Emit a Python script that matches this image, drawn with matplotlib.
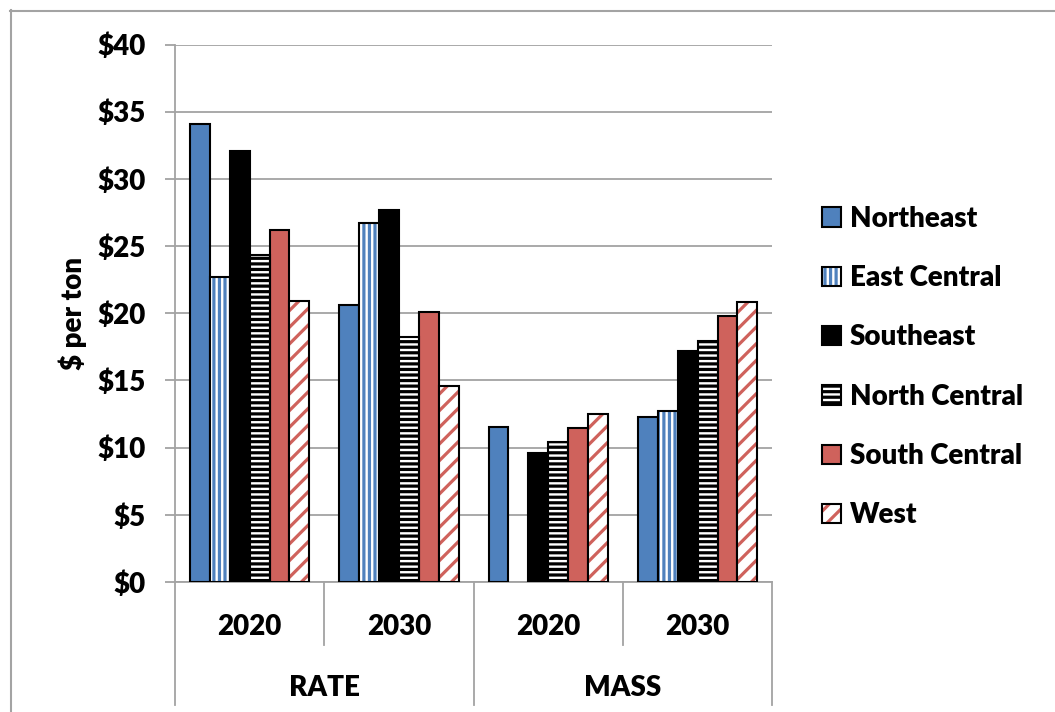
import numpy as np
import matplotlib.pyplot as plt
from matplotlib.patches import Patch
from matplotlib.lines import Line2D

plt.rcParams['font.family'] = ['Lato', 'DejaVu Sans']
plt.rcParams['font.weight'] = 'heavy'
plt.rcParams['axes.labelweight'] = 'heavy'
plt.rcParams['hatch.linewidth'] = 2.3

# cost per ton by region, for each scenario / year
groups = ['RATE', 'MASS']
years = ['2020', '2030', '2020', '2030']
regions = ['Northeast', 'East Central', 'Southeast', 'North Central',
           'South Central', 'West']

northeast = [34.05, 20.6, 11.5, 12.3]
east_central = [22.7, 26.7, np.nan, 12.7]
southeast = [32.1, 27.7, 9.6, 17.2]
north_central = [24.35, 18.2, 10.4, 17.9]
south_central = [26.2, 20.1, 11.45, 19.8]
west = [20.9, 14.6, 12.5, 20.85]

yticks = [0, 5, 10, 15, 20, 25, 30, 35, 40]
ytick_labels = ['$' + str(v) for v in yticks]

series = [northeast, east_central, southeast, north_central, south_central, west]

blue = '#4F81BD'
red = '#CF625C'
grid_gray = '#A3A3A3'
# (face colour, hatch, hatch colour)
styles = [
    (blue, None, None),
    ('white', '|||', blue),
    ('black', None, None),
    ('white', '---', 'black'),
    (red, None, None),
    ('white', '//', red),
]

fig = plt.figure(figsize=(10.55, 7.12), dpi=100)
ax = fig.add_axes([175 / 1055, 1 - 582 / 712, 597.3 / 1055, 537.5 / 712])

x = np.arange(len(years))
w = 0.8 / len(regions)
handles = []
for i, (vals, (face, hatch, hcol)) in enumerate(zip(series, styles)):
    vals = np.array(vals, dtype=float)
    ok = np.isfinite(vals)
    xs = x[ok] + (i - 2.5) * w
    if hatch:
        ax.bar(xs, vals[ok], w, color=face, edgecolor=hcol, hatch=hatch,
               linewidth=0, zorder=3)
        ax.bar(xs, vals[ok], w, fill=False, edgecolor='black', linewidth=1.5,
               zorder=4)
        h = (Patch(facecolor=face, edgecolor=hcol, hatch=hatch, linewidth=0),
             Patch(fill=False, edgecolor='black', linewidth=1.5))
    else:
        ax.bar(xs, vals[ok], w, color=face, edgecolor='black', linewidth=1.5,
               zorder=3)
        h = Patch(facecolor=face, edgecolor='black', linewidth=1.5)
    handles.append(h)

ax.set_xlim(-0.5, 3.5)
ax.set_ylim(0, 40)
ax.set_yticks(yticks)
ax.set_yticklabels(ytick_labels, fontsize=20)
ax.tick_params(axis='y', length=7, width=1.3, color=grid_gray, pad=14)
ax.set_xticks([])
ax.yaxis.grid(True, color=grid_gray, linewidth=1.3, zorder=0)
ax.set_axisbelow(True)
for s in ['top', 'right']:
    ax.spines[s].set_visible(False)
for s in ['left', 'bottom']:
    ax.spines[s].set_color(grid_gray)
    ax.spines[s].set_linewidth(1.3)

ax.set_ylabel('$ per ton', fontsize=20)
ax.yaxis.set_label_coords(-0.147, 0.5)

# two-level category axis below the plot
tr = ax.get_xaxis_transform()
for xd in [-0.5, 0.5, 1.5, 2.5, 3.5]:
    low = -0.229 if xd in (-0.5, 1.5, 3.5) else -0.117
    ax.plot([xd, xd], [0, low], color=grid_gray, linewidth=1.3,
            transform=tr, clip_on=False)
for xi, yr in zip(x, years):
    ax.text(xi, -0.0837, yr, transform=tr, ha='center', va='center',
            fontsize=20)
for gi, g in enumerate(groups):
    ax.text(2 * gi + 0.5, -0.197, g, transform=tr, ha='center', va='center',
            fontsize=20)

fig.legend(handles, regions, loc='center left',
           bbox_to_anchor=(822 / 1055, 1 - 367 / 712), frameon=False,
           fontsize=20, labelspacing=1.2, handlelength=0.7, handleheight=0.7,
           handletextpad=0.3, borderpad=0, borderaxespad=0)

# chart border
fig.add_artist(Line2D([10 / 1055, 1], [1 - 10.5 / 712, 1 - 10.5 / 712],
                      color=grid_gray, linewidth=1.5))
fig.add_artist(Line2D([10.5 / 1055, 10.5 / 1055], [0, 1 - 10 / 712],
                      color=grid_gray, linewidth=1.5))

fig.savefig('out.png', dpi=100)
